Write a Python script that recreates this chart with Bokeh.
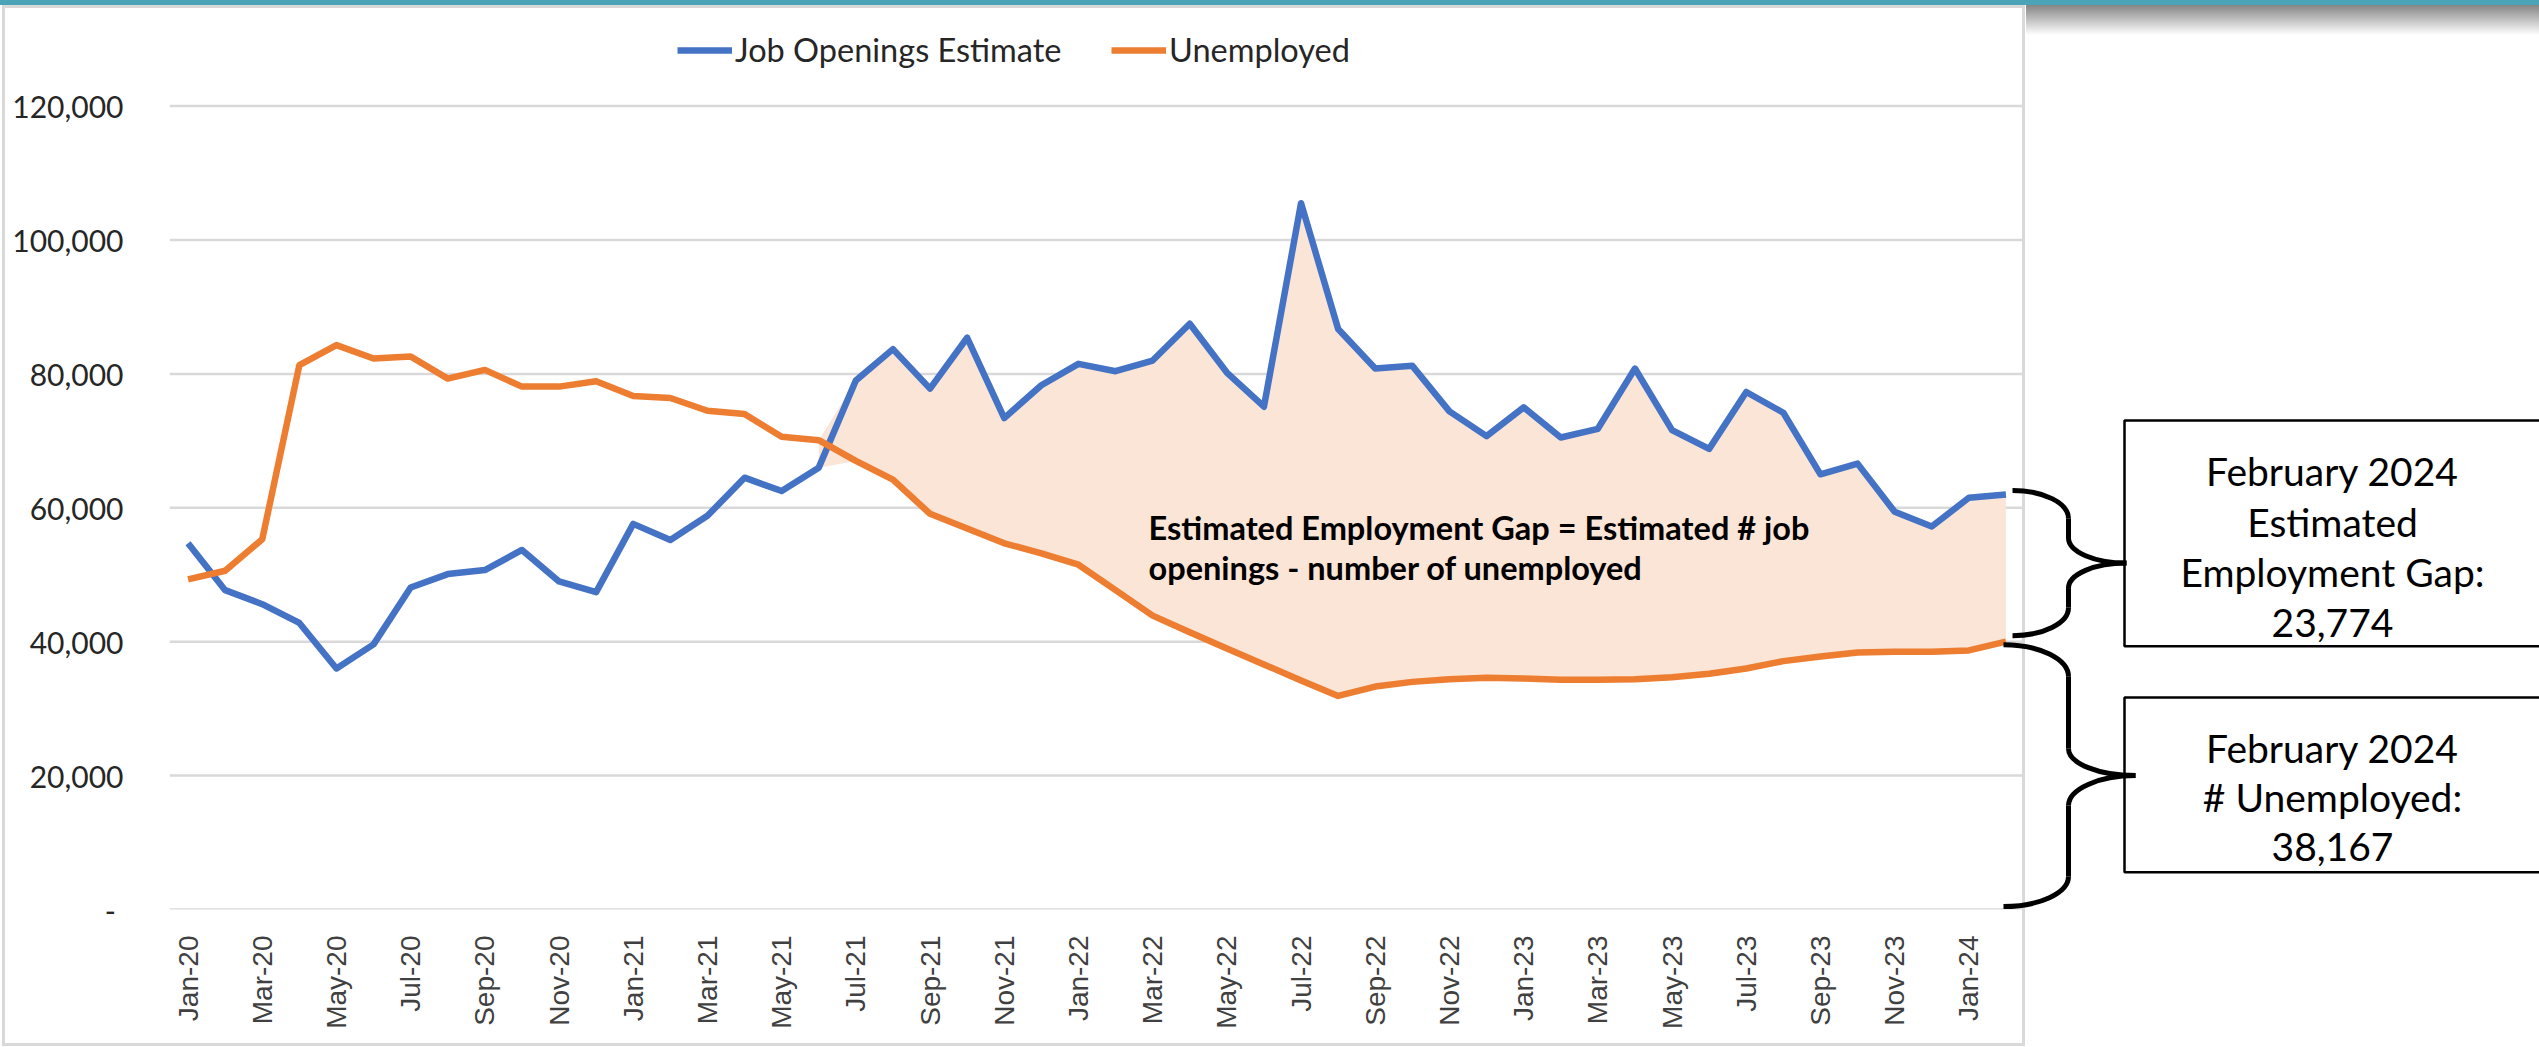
import math
import pandas as pd
from bokeh.plotting import figure
from bokeh.models import Range1d, FixedTicker, NumeralTickFormatter, Legend, LegendItem
from bokeh.core.properties import value
from bokeh.embed import file_html
from bokeh.resources import INLINE

# ---------------- data ----------------
months = list(pd.date_range("2020-01-01", periods=50, freq="MS").strftime("%b-%y"))

job_openings = [
    54700, 47700, 45600, 42800, 36000, 39600, 48100, 50100, 50700, 53700, 49000, 47400,
    57600, 55200, 58800, 64500, 62500, 66000, 79000, 83700, 77800, 85400, 73400, 78300,
    81500, 80400, 82000, 87500, 80200, 75100, 105500, 86700, 80800, 81200, 74400, 70700,
    75000, 70500, 71800, 80800, 71600, 68800, 77300, 74200, 65000, 66600, 59400, 57200,
    61500, 62000,
]
unemployed = [
    49300, 50600, 55300, 81300, 84300, 82300, 82600, 79300, 80600, 78100, 78100, 78900,
    76700, 76400, 74500, 74000, 70600, 70100, 67000, 64200, 59100, 56900, 54700, 53200,
    51500, 47700, 43900, 41400, 39000, 36600, 34200, 31900, 33300, 34000, 34400, 34600,
    34500, 34300, 34300, 34400, 34700, 35200, 36000, 37100, 37800, 38400, 38500, 38500,
    38700, 40000,
]
gap_start_month = "Jun-21"
y_ticks = [0, 20000, 40000, 60000, 80000, 100000, 120000]
legend_labels = ["Job Openings Estimate", "Unemployed"]
gap_note = ["Estimated Employment Gap = Estimated # job", "openings - number of unemployed"]
box_gap_text = ["February 2024", "Estimated", "Employment Gap:", "23,774"]
box_unemp_text = ["February 2024", "# Unemployed:", "38,167"]

# ---------------- layout ----------------
W, H = 2539, 1047
LEFT = 169          # frame left (px)
BOTTOM_PX = 909     # y=0 line (px from top)
CAT_PX = 37.1       # px per month
Y_SPAN_PX = 803.4   # px from 0 to top tick
n = len(months)
x_end = -0.5 + (W - LEFT) / CAT_PX
y_top = y_ticks[-1] * BOTTOM_PX / Y_SPAN_PX


def xd(px):
    return -0.5 + (px - LEFT) / CAT_PX


def yd(py):
    return (BOTTOM_PX - py) * y_ticks[-1] / Y_SPAN_PX


def py(v):
    return BOTTOM_PX - v * Y_SPAN_PX / y_ticks[-1]


BLUE = "#4472C4"
ORANGE = "#ED7D31"
FILL = "#FBE5D6"
GRID = "#D9D9D9"

bg = ", ".join([
    "linear-gradient(#4aa3b6,#4aa3b6) 0px 0px/100% 5px no-repeat",
    "linear-gradient(to bottom,#858585,#ffffff) 2026px 5px/513px 30px no-repeat",
    "linear-gradient(#d9d9d9,#d9d9d9) 2px 5px/3px 1041px no-repeat",
    "linear-gradient(#d9d9d9,#d9d9d9) 2022px 5px/3px 1041px no-repeat",
    "linear-gradient(#d9d9d9,#d9d9d9) 2px 5px/2023px 3px no-repeat",
    "linear-gradient(#d9d9d9,#d9d9d9) 2px 1043px/2023px 3px no-repeat",
    "#ffffff",
])

p = figure(width=W, height=H, x_range=Range1d(-0.5, x_end), y_range=Range1d(0, y_top),
           output_backend="svg", toolbar_location=None,
           min_border=0, min_border_left=LEFT, min_border_bottom=H - BOTTOM_PX,
           min_border_right=0, min_border_top=0)
p.styles = {"background": bg}
p.border_fill_color = None
p.background_fill_color = None
p.outline_line_color = None
p.grid.visible = False

# gridlines (chart area only)
p.segment(x0=[-0.5] * len(y_ticks), x1=[n - 0.5] * len(y_ticks), y0=y_ticks, y1=y_ticks,
          line_color=GRID, line_width=2.5)

# gap area
gs = months.index(gap_start_month)
xs_gap = list(range(gs, n))
lo = [min(job_openings[i], unemployed[i]) for i in xs_gap]
hi = [max(job_openings[i], unemployed[i]) for i in xs_gap]
p.varea(x=xs_gap, y1=lo, y2=hi, fill_color=FILL)

xs = list(range(n))
r_job = p.line(xs, job_openings, line_color=BLUE, line_width=6.5, line_join="round")
r_un = p.line(xs, unemployed, line_color=ORANGE, line_width=6.5, line_join="round")

# legends (location y = legend bottom measured from frame bottom)
for lab, rend, lx in [(legend_labels[0], r_job, 677 - LEFT), (legend_labels[1], r_un, 1111 - LEFT)]:
    leg = Legend(items=[LegendItem(label=lab, renderers=[rend])], location=(lx, BOTTOM_PX - 69),
                 orientation="horizontal", border_line_color=None, background_fill_alpha=0,
                 padding=0, margin=0, glyph_width=55, glyph_height=34, label_height=34,
                 label_standoff=3, label_text_font="Lato", label_text_font_size="32.5px",
                 label_text_color="#262626")
    p.add_layout(leg)

# axes
p.xaxis.ticker = FixedTicker(ticks=list(range(0, n, 2)))
p.xaxis.major_label_overrides = {i: months[i] for i in range(0, n, 2)}
p.xaxis.major_label_orientation = math.pi / 2
p.xaxis.major_label_text_font = "Liberation Sans"
p.xaxis.major_label_text_font_size = "28px"
p.xaxis.major_label_text_color = "#404040"
p.xaxis.axis_line_color = None
p.xaxis.major_tick_line_color = None
p.xaxis.minor_tick_line_color = None
p.xaxis.major_label_standoff = 20

p.yaxis.ticker = FixedTicker(ticks=y_ticks)
p.yaxis.formatter = NumeralTickFormatter(format="0,0")
p.yaxis.major_label_overrides = {0: "-\u00a0"}
p.yaxis.major_label_text_font = "Lato"
p.yaxis.major_label_text_font_size = "30px"
p.yaxis.major_label_text_color = "#262626"
p.yaxis.axis_line_color = None
p.yaxis.major_tick_line_color = None
p.yaxis.minor_tick_line_color = None
p.yaxis.major_label_standoff = 40

# note inside the gap
p.text(x=[xd(1148)] * 2, y=[yd(527), yd(567)], text=gap_note, text_font=value("Lato"),
       text_font_style="bold", text_font_size="32.5px", text_color="#000000",
       text_baseline="alphabetic", text_align="left")

# boxes
for top, bot in [(420, 645.7), (697, 871.7)]:
    p.quad(left=xd(2124), right=xd(2700), top=yd(top), bottom=yd(bot),
           fill_color="white", line_color="black", line_width=2.5)

p.text(x=[xd(2332)] * 4, y=[yd(v) for v in (470, 521, 571.5, 622)], text=box_gap_text,
       text_font=value("Lato"), text_font_size="39px", text_color="#000000",
       text_baseline="alphabetic", text_align="center")
p.text(x=[xd(2332)] * 3, y=[yd(v) for v in (747, 796, 846)], text=box_unemp_text,
       text_font=value("Lato"), text_font_size="39px", text_color="#000000",
       text_baseline="alphabetic", text_align="center")


# braces
def brace(xe, xs_, xt, yt, yb, r1, r2, r3, r4, k=0.55):
    ym = (yt + yb) / 2
    bz = [
        ((xe, yt), (xe + k * (xs_ - xe), yt), (xs_, yt + r1 - k * r1), (xs_, yt + r1)),
        ((xs_, ym - r2), (xs_, ym - r2 + k * r2), (xt - k * (xt - xs_), ym), (xt, ym)),
        ((xt, ym), (xt - k * (xt - xs_), ym), (xs_, ym + r3 - k * r3), (xs_, ym + r3)),
        ((xs_, yb - r4), (xs_, yb - r4 + k * r4), (xe + k * (xs_ - xe), yb), (xe, yb)),
    ]
    sg = [((xs_, yt + r1), (xs_, ym - r2)), ((xs_, ym + r3), (xs_, yb - r4))]
    p.bezier(x0=[xd(b[0][0]) for b in bz], y0=[yd(b[0][1]) for b in bz],
             cx0=[xd(b[1][0]) for b in bz], cy0=[yd(b[1][1]) for b in bz],
             cx1=[xd(b[2][0]) for b in bz], cy1=[yd(b[2][1]) for b in bz],
             x1=[xd(b[3][0]) for b in bz], y1=[yd(b[3][1]) for b in bz],
             line_color="black", line_width=5)
    p.segment(x0=[xd(s[0][0]) for s in sg], y0=[yd(s[0][1]) for s in sg],
              x1=[xd(s[1][0]) for s in sg], y1=[yd(s[1][1]) for s in sg],
              line_color="black", line_width=5)


brace(2012, 2068, 2126, py(job_openings[-1]) - 4, py(unemployed[-1]) - 6, 28, 25, 25, 28)
brace(2003, 2068, 2135, py(unemployed[-1]) + 3, py(0) - 3, 32, 27, 30, 30)

open("out.html", "w").write(file_html(p, INLINE))
